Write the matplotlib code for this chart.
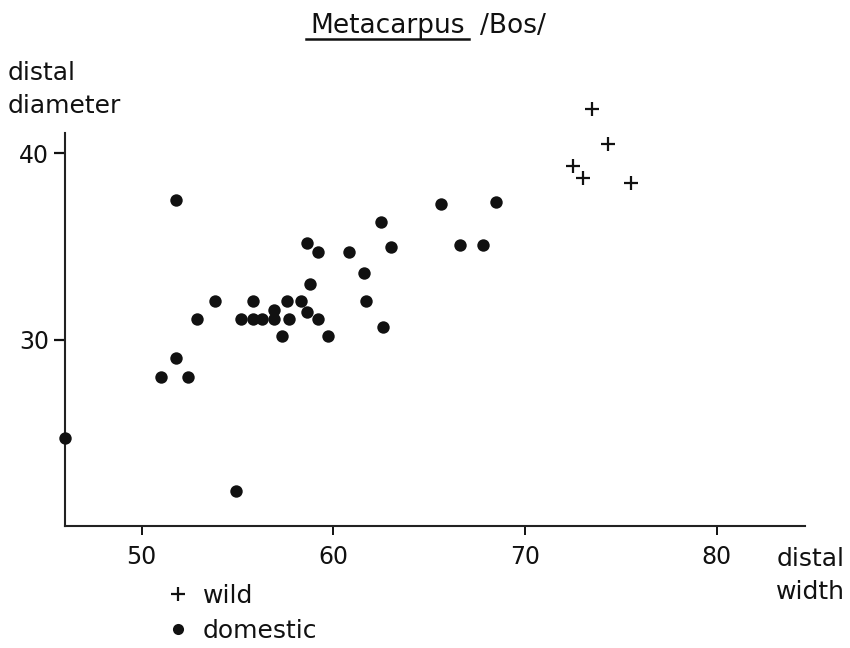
import matplotlib.pyplot as plt
from matplotlib.lines import Line2D

# distal width (x) / distal diameter (y)
domestic_x = [51.8, 58.6, 59.2, 60.8, 58.8, 53.8, 55.8, 57.6, 58.3, 56.9, 58.6,
              52.9, 55.2, 55.8, 56.3, 56.9, 57.7, 59.2, 57.3, 59.7, 51.8, 51.0,
              52.4, 65.6, 68.5, 62.5, 63.0, 66.6, 67.8, 61.6, 61.7, 62.6, 46.0, 54.9]
domestic_y = [37.5, 35.2, 34.7, 34.7, 33.0, 32.1, 32.1, 32.1, 32.1, 31.6, 31.5,
              31.1, 31.1, 31.1, 31.1, 31.1, 31.1, 31.1, 30.2, 30.2, 29.0, 28.0,
              28.0, 37.3, 37.4, 36.3, 35.0, 35.1, 35.1, 33.6, 32.1, 30.7, 24.7, 21.9]
wild_x = [73.5, 74.3, 72.5, 73.0, 75.5]
wild_y = [42.4, 40.5, 39.3, 38.7, 38.4]

x_ticks = [50, 60, 70, 80]
y_ticks = [30, 40]

plt.rcParams['font.family'] = ['DejaVu Sans']
FS = 17
LFS = 18
INK = '#111111'

fig = plt.figure(figsize=(8.5, 6.48), dpi=100)
ax = fig.add_axes([0.0765, 0.1883, 0.8706, 0.6065])

ax.scatter(domestic_x, domestic_y, s=80, color=INK, linewidths=0, clip_on=False, zorder=3)
ax.scatter(wild_x, wild_y, marker='+', s=110, color=INK, linewidths=1.6, clip_on=False, zorder=3)

ax.set_xlim(46, 84.6)
ax.set_ylim(20, 41.1)
ax.set_xticks(x_ticks)
ax.set_yticks(y_ticks)
ax.tick_params(axis='x', direction='out', length=6.5, width=1.4, pad=7, labelsize=FS, colors=INK)
ax.tick_params(axis='y', direction='out', length=8, width=1.6, pad=3.5, labelsize=FS, colors=INK)
for side in ['top', 'right']:
    ax.spines[side].set_visible(False)
for side in ['left', 'bottom']:
    ax.spines[side].set_linewidth(1.5)
    ax.spines[side].set_color('#222222')

# title with underlined genus part
t1 = fig.text(310 / 850, 1 - 33 / 648, 'Metacarpus', fontsize=LFS + 1, color=INK, va='baseline')
fig.canvas.draw()
bb = t1.get_window_extent().transformed(fig.transFigure.inverted())
fig.text(bb.x1 + 15 / 850, 1 - 33 / 648, '/Bos/', fontsize=LFS + 1, color=INK, va='baseline')
fig.add_artist(Line2D([bb.x0 - 0.005, bb.x1 + 0.005], [1 - 39 / 648] * 2,
                      transform=fig.transFigure, color=INK, lw=1.8))

# axis labels
fig.text(8 / 850, 1 - 113 / 648, 'distal\ndiameter', fontsize=LFS, color=INK,
         va='baseline', linespacing=1.5)
fig.text(845 / 850, 1 - 599 / 648, 'distal\nwidth', fontsize=LFS, color=INK,
         ha='right', va='baseline', multialignment='right', linespacing=1.5)

handles = [Line2D([], [], marker='+', ls='none', color=INK, ms=10, mew=1.6),
           Line2D([], [], marker='o', ls='none', color=INK, ms=8, mew=0)]
fig.legend(handles, ['wild', 'domestic'], loc='upper left',
           bbox_to_anchor=(165 / 850, 1 - 584 / 648), frameon=False, fontsize=LFS,
           handlelength=1.0, handletextpad=0.5, labelspacing=0.42,
           borderpad=0, borderaxespad=0, labelcolor=INK)

fig.savefig('out.png', dpi=100, facecolor='white')
